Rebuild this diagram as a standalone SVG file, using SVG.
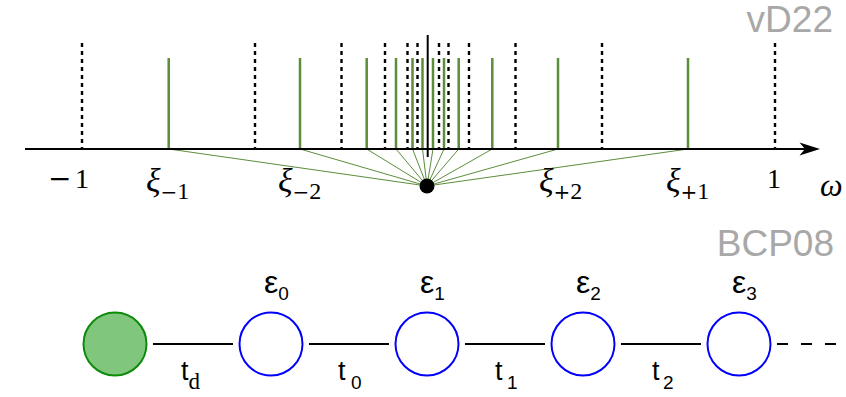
<svg xmlns="http://www.w3.org/2000/svg" width="846" height="397" viewBox="0 0 846 397">
<style>
.dash{stroke:#000;stroke-width:2.4;stroke-dasharray:4,4;fill:none}
.gv{stroke:#5b8d3b;stroke-width:2.5;fill:none}
.fan{stroke:#5b8d3b;stroke-width:1;fill:none}
.serif{font-family:"Liberation Serif","DejaVu Serif",serif;fill:#000}
.dv{font-family:"DejaVu Serif",serif}
.num{font-size:28px}
.xi{font-size:34px;font-style:italic}
.sub{font-size:24px;font-style:normal}
.om{font-size:32px;font-style:italic}
.tag{font-family:"Liberation Sans",Arial,sans-serif;fill:#a8a8a8;font-size:37px;text-anchor:end}
.sans{font-family:"Liberation Sans",Arial,sans-serif;fill:#000}
.eps{font-size:32px}
.esub{font-size:19px}
.t{font-size:27px}
.tsub{font-size:19px}
.blue{fill:#fff;stroke:#0000ff;stroke-width:2}
.edge{stroke:#000;stroke-width:2;fill:none}
</style>
<rect width="846" height="397" fill="#fff"/>
<text class="tag" x="833" y="32">vD22</text>
<text class="tag" x="834" y="256">BCP08</text>
<g id="spectrum">
<g id="dashed">
<line class="dash" x1="82" y1="43" x2="82" y2="149"/>
<line class="dash" x1="255" y1="43" x2="255" y2="149"/>
<line class="dash" x1="341.5" y1="43" x2="341.5" y2="149"/>
<line class="dash" x1="385" y1="43" x2="385" y2="149"/>
<line class="dash" x1="407.5" y1="43" x2="407.5" y2="149"/>
<line class="dash" x1="417.5" y1="43" x2="417.5" y2="149"/>
<line class="dash" x1="439" y1="43" x2="439" y2="149"/>
<line class="dash" x1="448.5" y1="43" x2="448.5" y2="149"/>
<line class="dash" x1="469" y1="43" x2="469" y2="149"/>
<line class="dash" x1="515.5" y1="43" x2="515.5" y2="149"/>
<line class="dash" x1="602" y1="43" x2="602" y2="149"/>
<line class="dash" x1="775" y1="43" x2="775" y2="149"/>
</g>
<g id="green">
<line class="gv" x1="168.7" y1="58" x2="168.7" y2="149"/>
<line class="gv" x1="300" y1="58" x2="300" y2="149"/>
<line class="gv" x1="366.7" y1="58" x2="366.7" y2="149"/>
<line class="gv" x1="396" y1="58" x2="396" y2="149"/>
<line class="gv" x1="412.5" y1="58" x2="412.5" y2="149"/>
<line class="gv" x1="422.5" y1="58" x2="422.5" y2="149"/>
<line class="gv" x1="433" y1="58" x2="433" y2="149"/>
<line class="gv" x1="444" y1="58" x2="444" y2="149"/>
<line class="gv" x1="458.7" y1="58" x2="458.7" y2="149"/>
<line class="gv" x1="492.3" y1="58" x2="492.3" y2="149"/>
<line class="gv" x1="558" y1="58" x2="558" y2="149"/>
<line class="gv" x1="688" y1="58" x2="688" y2="149"/>
</g>
<g id="fan">
<line class="fan" x1="168.7" y1="149" x2="427" y2="186"/>
<line class="fan" x1="300" y1="149" x2="427" y2="186"/>
<line class="fan" x1="366.7" y1="149" x2="427" y2="186"/>
<line class="fan" x1="396" y1="149" x2="427" y2="186"/>
<line class="fan" x1="412.5" y1="149" x2="427" y2="186"/>
<line class="fan" x1="422.5" y1="149" x2="427" y2="186"/>
<line class="fan" x1="433" y1="149" x2="427" y2="186"/>
<line class="fan" x1="444" y1="149" x2="427" y2="186"/>
<line class="fan" x1="458.7" y1="149" x2="427" y2="186"/>
<line class="fan" x1="492.3" y1="149" x2="427" y2="186"/>
<line class="fan" x1="558" y1="149" x2="427" y2="186"/>
<line class="fan" x1="688" y1="149" x2="427" y2="186"/>
</g>
<g id="axis">
<line x1="25" y1="149" x2="806" y2="149" stroke="#000" stroke-width="2"/>
<path d="M820,149 L799.5,142.5 L805,149 L799.5,155.5 Z" fill="#000"/>
<line x1="427.7" y1="35" x2="427.7" y2="157" stroke="#000" stroke-width="2"/>
</g>
<circle id="dot" cx="427" cy="186" r="7.5" fill="#000"/>
<g id="axis-labels">
<text class="serif num" x="48" y="188"><tspan class="dv">−</tspan><tspan x="75">1</tspan></text>
<text class="serif num" x="774" y="188" text-anchor="middle">1</text>
<text class="serif om" x="820" y="196">ω</text>
<text class="serif xi" x="146" y="192">ξ<tspan class="sub dv" dy="7" style="font-size:20px">−</tspan><tspan class="sub">1</tspan></text>
<text class="serif xi" x="278" y="192">ξ<tspan class="sub dv" dy="7" style="font-size:20px">−</tspan><tspan class="sub">2</tspan></text>
<text class="serif xi" x="539" y="192">ξ<tspan class="sub dv" dy="7" style="font-size:20px">+</tspan><tspan class="sub">2</tspan></text>
<text class="serif xi" x="666" y="192">ξ<tspan class="sub dv" dy="7" style="font-size:20px">+</tspan><tspan class="sub">1</tspan></text>
</g>
</g>
<g id="chain-edges">
<line class="edge" x1="153" y1="344" x2="233" y2="344"/>
<line class="edge" x1="309" y1="344" x2="389" y2="344"/>
<line class="edge" x1="465" y1="344" x2="545" y2="344"/>
<line class="edge" x1="621" y1="344" x2="701" y2="344"/>
<line class="edge" x1="777" y1="344" x2="838" y2="344" stroke-dasharray="11,13"/>
</g>
<g id="node-dot"><circle cx="115" cy="344" r="31.5" fill="#80c67c" stroke="#0b8a0b" stroke-width="2"/></g>
<g id="node-e0"><circle class="blue" cx="271" cy="344" r="31.5"/>
<text class="sans eps" x="264" y="293">ε<tspan class="esub" dy="7">0</tspan></text></g>
<g id="node-e1"><circle class="blue" cx="427" cy="344" r="31.5"/>
<text class="sans eps" x="420" y="293">ε<tspan class="esub" dy="7">1</tspan></text></g>
<g id="node-e2"><circle class="blue" cx="583" cy="344" r="31.5"/>
<text class="sans eps" x="576" y="293">ε<tspan class="esub" dy="7">2</tspan></text></g>
<g id="node-e3"><circle class="blue" cx="739" cy="344" r="31.5"/>
<text class="sans eps" x="732" y="293">ε<tspan class="esub" dy="7">3</tspan></text></g>
<g id="edge-labels">
<text class="sans t" x="181" y="380">t<tspan class="serif" style="font-size:23px" dy="9">d</tspan></text>
<text class="sans t" x="338" y="380">t<tspan class="tsub" x="351" dy="9">0</tspan></text>
<text class="sans t" x="495" y="380">t<tspan class="tsub" x="507" dy="9">1</tspan></text>
<text class="sans t" x="652" y="380">t<tspan class="tsub" x="663" dy="9">2</tspan></text>
</g>
</svg>
